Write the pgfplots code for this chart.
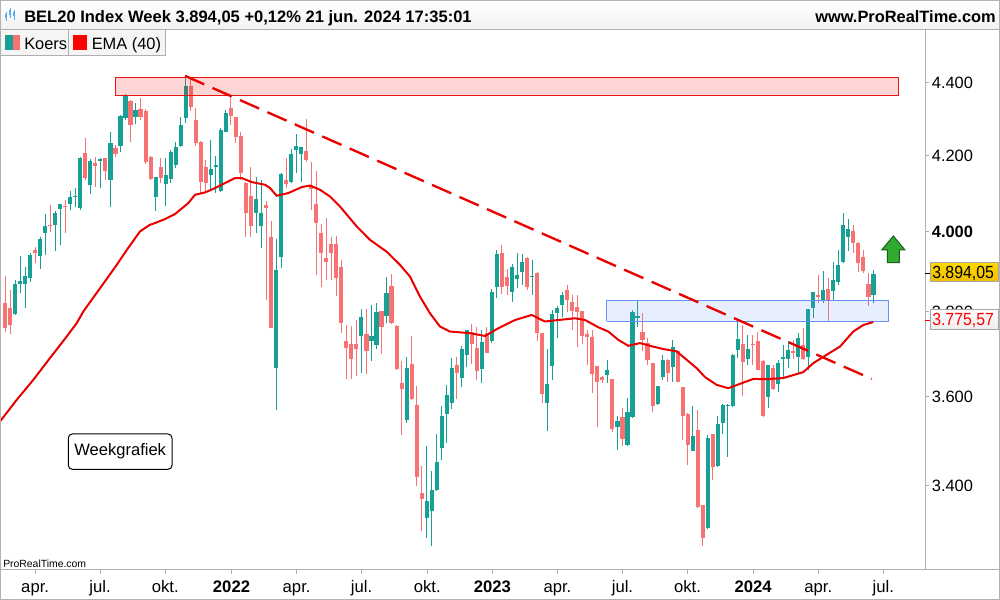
\documentclass[border=0pt]{standalone}
\usepackage{fontspec}
\setmainfont{Liberation Sans}
\usepackage{pgfplots}
\usepackage{pgfplotstable}
\pgfplotsset{compat=1.18}
\definecolor{up}{RGB}{22,160,150}
\definecolor{dn}{RGB}{247,115,115}
\definecolor{ema}{RGB}{235,0,0}
\definecolor{frame}{RGB}{175,175,175}
\definecolor{zoneR}{RGB}{235,20,20}
\definecolor{zoneB}{RGB}{100,145,250}
\definecolor{arrowG}{RGB}{50,170,50}
\definecolor{arrowD}{RGB}{25,95,25}
\definecolor{yel1}{RGB}{255,216,0}
\definecolor{yel2}{RGB}{240,190,0}
\definecolor{icon}{RGB}{90,170,230}
\newcommand\fs{\fontsize{12.3}{14}\selectfont}

\pgfplotstableread{
n o h l c
3 3795 3879 3793 3869
4 3868 3937 3846 3876
5 3868 3912 3810 3889
6 3884 3945 3874 3941
8 3939 3987 3907 3982
9 3998 4046 3941 4013
11 4017 4052 3952 4049
12 4059 4072 3966 4070
14 4072 4104 4056 4090
15 4089 4114 4063 4091
16 4062 4196 4056 4194
18 4120 4190 4098 4185
20 4185 4193 4113 4189
22 4135 4262 4063 4234
24 4224 4309 4210 4307
25 4301 4368 4295 4366
27 4304 4344 4285 4324
31 4089 4143 4052 4142
33 4124 4192 4065 4148
34 4137 4215 4127 4209
35 4174 4236 4166 4222
36 4226 4303 4222 4283
37 4301 4419 4287 4391
42 4148 4242 4104 4164
43 4168 4197 4100 4174
44 4104 4275 4102 4269
45 4264 4324 4262 4316
51 4049 4143 3996 4085
52 4013 4135 3958 4049
55 3666 3982 3569 3903
56 3935 4152 3908 4150
58 4128 4217 4126 4203
59 4213 4258 4152 4226
60 4203 4222 4128 4221
72 3741 3807 3655 3787
74 3729 3817 3683 3742
75 3719 3823 3711 3800
77 3791 3887 3773 3847
81 3545 3693 3540 3667
85 3330 3488 3288 3368
86 3345 3433 3271 3390
87 3390 3515 3389 3451
88 3483 3578 3457 3556
89 3560 3627 3495 3604
90 3586 3689 3571 3667
92 3642 3717 3621 3711
93 3697 3757 3669 3756
96 3663 3757 3632 3727
98 3729 3856 3725 3850
99 3860 3954 3833 3944
102 3850 3919 3824 3910
103 3880 3945 3858 3891
104 3899 3943 3866 3922
106 3885 3929 3842 3889
109 3585 3711 3522 3629
110 3672 3805 3638 3795
111 3798 3815 3737 3809
112 3817 3850 3787 3842
121 3650 3685 3632 3662
123 3529 3554 3479 3544
125 3489 3596 3487 3565
126 3553 3805 3551 3801
127 3785 3828 3764 3790
131 3583 3625 3580 3624
132 3646 3697 3638 3685
134 3668 3733 3633 3715
138 3477 3578 3476 3509
141 3309 3513 3306 3505
143 3442 3556 3441 3537
144 3540 3582 3515 3581
145 3579 3582 3463 3581
146 3577 3698 3576 3697
147 3709 3777 3689 3735
149 3688 3745 3673 3711
153 3598 3674 3573 3673
155 3629 3685 3609 3677
156 3687 3721 3646 3693
157 3687 3729 3666 3709
159 3693 3750 3654 3738
161 3691 3808 3662 3807
162 3809 3849 3785 3848
164 3829 3902 3821 3854
166 3852 3924 3829 3879
167 3874 3954 3866 3916
168 3924 4048 3920 4017
169 3987 4033 3952 4007
174 3842 3903 3821 3894.05
}\upT

\pgfplotstableread{
n o h l c
1 3823 3889 3752 3762
2 3810 3854 3747 3769
7 3954 3961 3920 3945
10 4018 4069 4000 4015
13 4066 4082 3996 4063
17 4206 4247 4133 4139
19 4179 4195 4115 4172
21 4192 4194 4135 4157
23 4220 4228 4195 4203
26 4349 4350 4237 4281
28 4326 4356 4296 4304
29 4321 4327 4177 4181
30 4195 4197 4134 4137
32 4168 4192 4126 4139
38 4391 4412 4322 4333
39 4296 4329 4224 4234
40 4237 4238 4101 4128
41 4169 4188 4101 4125
46 4330 4366 4283 4308
47 4303 4304 4233 4248
48 4253 4264 4135 4152
49 4126 4130 3987 4049
50 4093 4168 3987 4013
53 4069 4078 3829 4062
54 3987 4028 3760 3762
57 4135 4192 4114 4123
61 4212 4298 4183 4188
62 4119 4181 4056 4110
63 4072 4159 3892 4023
64 3996 4019 3860 3947
65 3934 4035 3879 3924
66 3969 3987 3879 3947
67 3969 3989 3840 3883
68 3912 3929 3749 3773
69 3730 3769 3640 3714
70 3722 3766 3640 3687
71 3722 3781 3648 3711
73 3747 3807 3652 3705
76 3802 3803 3699 3764
78 3864 3894 3772 3773
79 3767 3769 3662 3664
80 3631 3683 3513 3617
82 3676 3742 3592 3594
83 3581 3623 3400 3420
84 3385 3444 3302 3371
91 3673 3692 3594 3654
94 3752 3770 3676 3722
95 3713 3764 3638 3658
97 3749 3764 3700 3702
100 3945 3966 3843 3862
101 3885 3905 3842 3864
105 3934 3935 3855 3860
107 3897 3899 3730 3749
108 3749 3750 3585 3605
113 3854 3866 3801 3828
114 3825 3842 3757 3802
115 3811 3842 3715 3801
116 3802 3803 3722 3742
117 3747 3757 3673 3739
118 3739 3757 3608 3652
119 3671 3672 3531 3634
120 3646 3647 3631 3638
122 3640 3641 3520 3525
124 3552 3573 3487 3503
128 3752 3797 3705 3733
129 3725 3737 3673 3685
130 3677 3678 3563 3579
133 3685 3686 3634 3655
135 3707 3708 3633 3634
136 3621 3622 3501 3554
137 3560 3561 3446 3490
139 3524 3569 3352 3353
140 3357 3358 3271 3289
142 3514 3515 3413 3440
148 3723 3769 3601 3681
150 3723 3745 3673 3719
151 3730 3752 3661 3662
152 3683 3684 3552 3556
154 3667 3673 3615 3617
158 3706 3733 3687 3701
160 3721 3762 3685 3687
163 3842 3891 3821 3836
165 3856 3883 3779 3829
170 4002 4017 3945 3972
171 3973 3974 3899 3920
172 3935 3954 3897 3902
173 3869 3895 3815 3836
}\dnT

\begin{document}
\begin{tikzpicture}
\path[use as bounding box] (0,0) rectangle (750pt,450pt);
\begin{scope}[shift={(0pt,450pt)}, x=0.75pt, y=-0.75pt]
  \fill[white] (0,0) rectangle (1000,600);
  \shade[top color=white, bottom color=black!5] (0,0) rectangle (1000,29.5);
\end{scope}

\begin{axis}[
  at={(0pt,22.5pt)}, anchor=south west,
  scale only axis, width=693.75pt, height=405pt,
  xmin=0, xmax=184.27,
  ymode=log, ymin=3222, ymax=4550.8,
  axis line style={draw=frame, line width=0.75pt},
  tick align=outside, major tick length=3pt,
  tick style={draw=frame, line width=0.75pt},
  xtick pos=left, ytick pos=right, yticklabel pos=right,
  xtick={7.0,19.94,32.91,46.12,59.09,72.04,85.12,98.07,111.04,124.0,136.95,150.04,163.0,175.96},
  xticklabels={apr.,jul.,okt.,\textbf{2022},apr.,jul.,okt.,\textbf{2023},apr.,jul.,okt.,\textbf{2024},apr.,jul.},
  ytick={3400,3600,3800,4000,4200,4400},
  yticklabels={3.400,3.600,3.800,\textbf{4.000},4.200,4.400},
  minor ytick={}, yminorticks=false,
  xticklabel style={font=\fontsize{12.5}{14}\selectfont, anchor=base, yshift=-14.25pt},
  yticklabel style={font=\fs, anchor=base west, inner sep=0pt, xshift=2pt, yshift=-4.35pt},
]
% wicks and bodies
\addplot[draw=none, mark=none, forget plot, error bars/.cd, y dir=plus, y explicit, error mark=none,
  error bar style={draw=up, line width=0.75pt, solid}]
  table[x=n, y=l, y error expr=\thisrow{h}-\thisrow{l}] {\upT};
\addplot[draw=none, mark=none, forget plot, error bars/.cd, y dir=plus, y explicit, error mark=none,
  error bar style={draw=up, line width=3.1pt, solid}]
  table[x=n, y=o, y error expr=\thisrow{c}-\thisrow{o}] {\upT};
\addplot[draw=none, mark=none, forget plot, error bars/.cd, y dir=plus, y explicit, error mark=none,
  error bar style={draw=dn, line width=0.75pt, solid}]
  table[x=n, y=l, y error expr=\thisrow{h}-\thisrow{l}] {\dnT};
\addplot[draw=none, mark=none, forget plot, error bars/.cd, y dir=plus, y explicit, error mark=none,
  error bar style={draw=dn, line width=3.1pt, solid}]
  table[x=n, y=c, y error expr=\thisrow{o}-\thisrow{c}] {\dnT};
% zones
\addplot[draw=zoneR, line width=0.75pt, fill=red, fill opacity=0.17, draw opacity=1, mark=none]
  coordinates {(22.91,4362.7) (178.9,4362.7) (178.9,4415.2) (22.91,4415.2) (22.91,4362.7)};
\addplot[draw=zoneB, line width=0.75pt, fill=zoneB, fill opacity=0.15, draw opacity=1, mark=none]
  coordinates {(120.92,3777.4) (176.95,3777.4) (176.95,3827.5) (120.92,3827.5) (120.92,3777.4)};
% EMA 40
\addplot[ema, line width=1.5pt, mark=none] coordinates {
(0.0,3542.6) (3.33,3592.1) (6.64,3638.3) (9.96,3689.4) (13.29,3740.5) (15.28,3772.6) (16.6,3800.7)
(19.92,3858.0) (23.25,3915.9) (25.24,3953.7) (27.89,4000.2) (29.88,4017.4) (30.88,4021.8) (32.87,4032.0)
(34.86,4044.9) (37.51,4073.5) (38.85,4095.2) (40.84,4101.2) (42.83,4112.8) (44.82,4126.0) (46.82,4139.1)
(48.15,4139.1) (50.14,4128.6) (52.79,4121.5) (53.79,4112.8) (55.12,4092.6) (57.43,4099.7) (60.10,4115.4)
(61.76,4119.6) (63.75,4108.3) (65.74,4090.8) (67.73,4064.6) (71.06,4013.0) (73.71,3979.0) (77.04,3949.4)
(79.69,3915.9) (81.68,3886.8) (83.67,3837.3) (85.66,3796.8) (87.65,3764.4) (89.64,3752.4) (93.63,3748.6)
(96.62,3742.2) (99.27,3760.6) (102.59,3780.6) (105.92,3792.7) (108.57,3776.5) (111.22,3780.6) (114.55,3784.7)
(116.54,3780.6) (119.19,3762.9) (121.18,3752.4) (123.17,3732.6) (125.16,3718.3) (127.49,3724.8) (130.14,3716.7)
(132.14,3710.5) (134.80,3704.8) (136.80,3685.1) (138.79,3665.6) (140.44,3644.6) (142.77,3626.7) (145.08,3619.0)
(147.41,3629.0) (150.06,3640.6) (152.73,3639.9) (156.04,3642.3) (160.02,3656.3) (162.02,3677.3) (164.68,3697.0)
(167.33,3716.7) (169.98,3752.4) (171.98,3768.6) (173.97,3775.57)};
% trend line
\addplot[ema, line width=1.75pt, dash pattern=on 15.75pt off 6.75pt, mark=none]
  coordinates {(36.86,4418.9) (173.65,3640.6)};
\end{axis}

\begin{scope}[shift={(0pt,450pt)}, x=0.75pt, y=-0.75pt]
  % header
  \draw[frame, line width=0.75pt] (0,29.5) -- (1000,29.5);
  \draw[black!30, line width=0.6pt] (0.5,0.5) rectangle (999.5,599.5);
  \draw[black!30, line width=0.75pt] (999.5,29.5) -- (999.5,570) ;
  \draw[frame, line width=0.75pt] (925,570) -- (1000,570);
  % header icon
  \foreach \xx/\ya/\yb/\yc/\yd in {6/12/14/18/21, 10/8/10/15/18, 14/10/12/16/20}{
    \draw[icon, line width=0.6pt] (\xx,\ya) -- (\xx,\yd);
    \fill[icon] (\xx-1.2,\yb) rectangle (\xx+1.2,\yc);
  }
  \node[anchor=base west, inner sep=0pt, font=\fontsize{12.4}{14}\selectfont\bfseries] at (24,22.5)
    {BEL20 Index Week 3.894,05 +0,12\% 21 jun. 2024 17:35:01};
  \node[anchor=base east, inner sep=0pt, font=\fontsize{12.3}{14}\selectfont\bfseries] at (996,22.5)
    {www.ProRealTime.com};
  % legend
  \filldraw[fill=black!4, draw=frame, line width=0.75pt] (0.5,29.5) rectangle (165,55.3);
  \draw[frame, line width=0.75pt] (68.3,29.5) -- (68.3,55.3);
  \fill[up] (5,35.3) rectangle (12.5,50);
  \fill[dn] (12.5,35.3) rectangle (20,50);
  \fill[red] (72.7,35.3) rectangle (87.3,50);
  \node[anchor=base west, inner sep=0pt, font=\fs] at (24,49.3) {Koers};
  \node[anchor=base west, inner sep=0pt, font=\fs] at (91.5,49.3) {EMA (40)};
  % annotation box
  \filldraw[fill=white, draw=black, line width=0.75pt, rounded corners=3pt] (68.3,434) rectangle (172,469.3);
  \node[font=\fontsize{12.4}{14}\selectfont, inner sep=0pt] at (120.2,451.7) {Weekgrafiek};
  % watermark
  \node[anchor=base west, inner sep=0pt, font=\fontsize{7.8}{9}\selectfont] at (3,567.5) {ProRealTime.com};
  % green arrow
  \filldraw[fill=arrowG, draw=arrowD, line width=0.75pt, line join=miter]
    (893.3,236) -- (905,250) -- (899.3,250) -- (899.3,262.7) -- (887.3,262.7) -- (887.3,250) -- (881.7,250) -- cycle;
  % price labels
  \draw[black, line width=0.75pt] (925,273.3) -- (929.5,273.3);
  \shade[top color=yel1, bottom color=yel2] (930.7,262.7) rectangle (998.7,282);
  \draw[black!35, line width=0.75pt] (930.7,262.7) rectangle (998.7,282);
  \node[anchor=base west, inner sep=0pt, font=\fontsize{13.2}{15}\selectfont] at (932,278.3) {\scalebox{0.9}[1]{3.894,05}};
  \draw[red, line width=0.75pt] (925,321) -- (929.5,321);
  \shade[top color=white, bottom color=black!7] (930.7,309.3) rectangle (998.7,329.3);
  \draw[black!35, line width=0.75pt] (930.7,309.3) rectangle (998.7,329.3);
  \node[anchor=base west, inner sep=0pt, font=\fontsize{13.2}{15}\selectfont, text=red] at (932,325.3) {\scalebox{0.9}[1]{3.775,57}};
\end{scope}
\end{tikzpicture}
\end{document}
